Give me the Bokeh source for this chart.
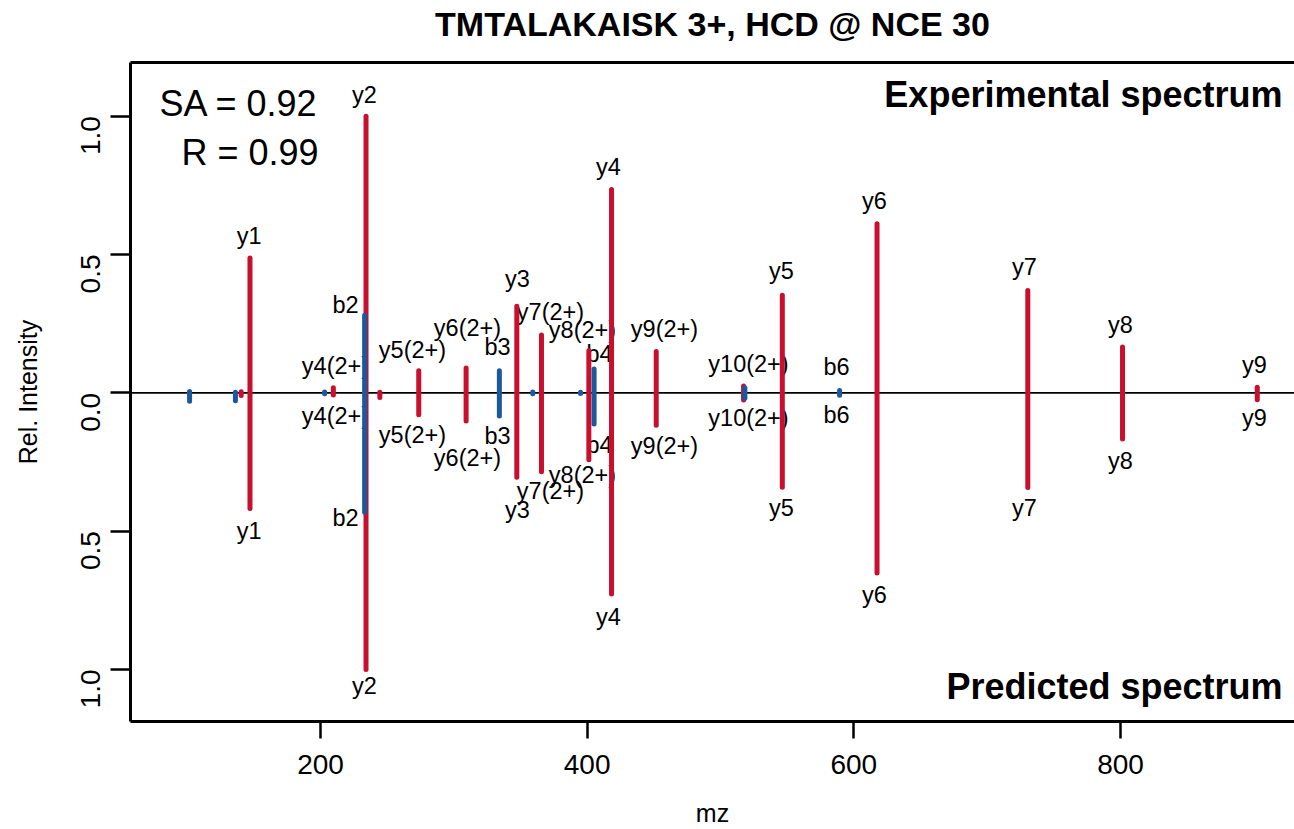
import math
from bokeh.plotting import figure
from bokeh.models import (Range1d, LinearAxis, FixedTicker, CustomJSTickFormatter,
                          Span, Label, ColumnDataSource)
from bokeh.embed import file_html
from bokeh.resources import INLINE
from bokeh.core.properties import value

# ---------------- data ----------------
title_text = "TMTALAKAISK 3+, HCD @ NCE 30"

# y-ion peaks (red): m/z, experimental (top) and predicted (bottom) rel. intensity
y_mz = [140.5, 147.11, 209.64, 234.14, 244.5, 273.68, 309.20, 347.23, 365.74,
        401.26, 418.27, 451.79, 517.30, 546.36, 617.40, 730.48, 801.52, 902.57]
y_exp = [0.004, 0.487, 0.018, 1.000, 0.002, 0.080, 0.090, 0.313, 0.209,
         0.152, 0.735, 0.149, 0.025, 0.353, 0.611, 0.370, 0.166, 0.020]
y_pred = [0.010, 0.418, 0.008, 1.000, 0.017, 0.079, 0.102, 0.305, 0.285,
          0.242, 0.727, 0.117, 0.026, 0.341, 0.651, 0.342, 0.167, 0.025]

# b-ion peaks (blue)
b_mz = [101.8, 136.2, 203.1, 233.10, 334.15, 359.2, 395.0, 405.19, 518.28, 589.31]
b_exp = [0.005, 0.002, 0.003, 0.280, 0.080, 0.003, 0.002, 0.086, 0.018, 0.008]
b_pred = [0.030, 0.029, 0.003, 0.432, 0.084, 0.003, 0.002, 0.113, 0.020, 0.009]

# ion annotations (label text and where the label sits, in data units)
lab_text = ["y1", "y2", "b2", "y4(2+)", "y5(2+)", "y6(2+)", "b3", "y3", "y7(2+)",
            "y8(2+)", "b4", "y4", "y9(2+)", "y10(2+)", "y5", "b6", "y6", "y7",
            "y8", "y9"]
lab_mz = [146.5, 233.0, 218.75, 211.25, 269.0, 310.25, 332.75, 347.75, 372.5,
          396.5, 409.25, 416.0, 458.0, 521.0, 545.75, 587.0, 615.5, 728.0,
          800.0, 900.5]
lab_top = [0.566, 1.076, 0.316, 0.097, 0.156, 0.235, 0.167, 0.411, 0.293,
           0.228, 0.139, 0.817, 0.231, 0.106, 0.440, 0.095, 0.695, 0.454,
           0.246, 0.102]
lab_bottom = [-0.499, -1.061, -0.451, -0.084, -0.153, -0.235, -0.156, -0.425,
              -0.354, -0.296, -0.188, -0.810, -0.192, -0.092, -0.418, -0.081,
              -0.731, -0.418, -0.246, -0.092]

y_ticks = [-1.0, -0.5, 0.0, 0.5, 1.0]
x_ticks = [200, 400, 600, 800]

sa_text = "SA = 0.92"
r_text = "R = 0.99"
top_text = "Experimental spectrum"
bottom_text = "Predicted spectrum"

# ---------------- styling ----------------
FONT = "Liberation Sans"
RED = "#C8102E"
BLUE = "#1A5A9C"

p = figure(width=1294, height=829, output_backend="svg", toolbar_location=None,
           x_range=Range1d(57.5, 930.5), y_range=Range1d(-1.188, 1.194),
           min_border_left=130, min_border_right=0, min_border_top=62,
           min_border_bottom=104, background_fill_color="white",
           border_fill_color="white", title=None)
p.outline_line_color = None
p.grid.visible = False

xa = p.below[0]
ya = p.left[0]

# top border, carrying the chart title as its label
top_axis = LinearAxis(ticker=FixedTicker(ticks=[]), major_label_text_font_size="0px",
                      major_label_standoff=0, major_tick_out=0, major_tick_in=0,
                      axis_line_width=3, axis_line_color="black",
                      major_tick_line_color=None, minor_tick_line_color=None,
                      axis_label=title_text, axis_label_text_font=FONT,
                      axis_label_text_font_size="34px",
                      axis_label_text_font_style="bold",
                      axis_label_text_color="black", axis_label_standoff=20)
p.add_layout(top_axis, "above")

# x axis
xa.ticker = FixedTicker(ticks=x_ticks)
xa.axis_label = "mz"
xa.axis_label_text_font = FONT
xa.axis_label_text_font_size = "25px"
xa.axis_label_text_font_style = "normal"
xa.axis_label_text_color = "black"
xa.axis_label_standoff = 22
xa.major_label_text_font = FONT
xa.major_label_text_font_size = "28px"
xa.major_label_text_color = "black"
xa.major_label_standoff = 16
xa.major_tick_out = 17
xa.major_tick_in = 0
xa.major_tick_line_width = 2.5
xa.minor_tick_line_color = None
xa.axis_line_width = 3

# y axis
ya.ticker = FixedTicker(ticks=y_ticks)
ya.formatter = CustomJSTickFormatter(code="return Math.abs(tick).toFixed(1);")
ya.major_label_orientation = math.pi / 2
ya.axis_label = "Rel. Intensity"
ya.axis_label_text_font = FONT
ya.axis_label_text_font_size = "25px"
ya.axis_label_text_font_style = "normal"
ya.axis_label_text_color = "black"
ya.axis_label_standoff = 27
ya.major_label_text_font = FONT
ya.major_label_text_font_size = "28px"
ya.major_label_text_color = "black"
ya.major_label_standoff = 20
ya.major_tick_out = 20
ya.major_tick_in = 0
ya.major_tick_line_width = 2.5
ya.minor_tick_line_color = None
ya.axis_line_width = 3

# zero line beneath the peaks
p.add_layout(Span(location=0, dimension="width", line_color="black",
                  line_width=1.8, level="underlay"))

# labels (drawn first so peaks overlay them)
lab_src = ColumnDataSource(dict(x=lab_mz + lab_mz, y=lab_top + lab_bottom,
                                t=lab_text + lab_text))
p.text(x="x", y="y", text="t", source=lab_src, text_align="center",
       text_baseline="middle", text_font=value(FONT), text_font_size="23.5px",
       text_color="black")

y_src = ColumnDataSource(dict(mz=y_mz, top=y_exp, bot=[-v for v in y_pred]))
p.segment(x0="mz", y0="bot", x1="mz", y1="top", source=y_src, line_color=RED,
          line_width=5, line_cap="round")

b_src = ColumnDataSource(dict(mz=b_mz, top=b_exp, bot=[-v for v in b_pred]))
p.segment(x0="mz", y0="bot", x1="mz", y1="top", source=b_src, line_color=BLUE,
          line_width=5, line_cap="round")

# annotations
p.add_layout(Label(x=198.5, y=1.047, text=sa_text, text_align="right",
                   text_baseline="middle", text_font=FONT, text_font_size="36px",
                   text_color="black"))
p.add_layout(Label(x=198.5, y=0.870, text=r_text, text_align="right",
                   text_baseline="middle", text_font=FONT, text_font_size="36px",
                   text_color="black"))
p.add_layout(Label(x=921.5, y=1.079, text=top_text, text_align="right",
                   text_baseline="middle", text_font=FONT, text_font_size="36px",
                   text_font_style="bold", text_color="black"))
p.add_layout(Label(x=921.5, y=-1.061, text=bottom_text, text_align="right",
                   text_baseline="middle", text_font=FONT, text_font_size="36px",
                   text_font_style="bold", text_color="black"))

open("out.html", "w").write(file_html(p, INLINE))
